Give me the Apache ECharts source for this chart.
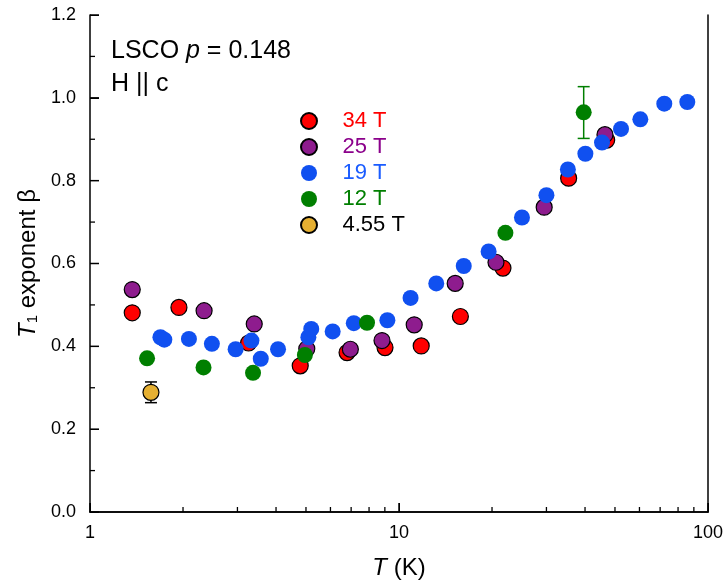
<!DOCTYPE html>
<html>
<head>
<meta charset="utf-8">
<script src="https://cdn.jsdelivr.net/npm/echarts@6/dist/echarts.min.js"></script>
<style>html,body{margin:0;padding:0;background:#fff}#c{width:728px;height:588px}</style>
</head>
<body>
<div id="c"></div>
<script>
// ---- data: [T (K), beta] ----
const field34T = [[1.37,0.481],[1.94,0.494],[3.26,0.408],[4.79,0.353],[6.79,0.385],[9.01,0.397],[11.8,0.401],[15.8,0.472],[21.7,0.589],[35.4,0.806],[47.0,0.898]];
const field25T = [[1.37,0.537],[2.34,0.486],[3.40,0.454],[5.03,0.394],[6.96,0.393],[8.81,0.414],[11.2,0.452],[15.2,0.552],[20.6,0.603],[29.5,0.736],[46.4,0.911]];
const field19T = [[1.69,0.422],[1.74,0.416],[2.09,0.418],[2.48,0.406],[2.96,0.393],[3.33,0.414],[3.57,0.370],[4.06,0.393],[5.09,0.422],[5.20,0.442],[6.10,0.436],[7.14,0.456],[9.17,0.463],[10.9,0.517],[13.2,0.552],[16.2,0.594],[19.5,0.629],[25.0,0.711],[30.0,0.765],[35.2,0.827],[40.1,0.865],[45.4,0.892],[52.3,0.925],[60.4,0.948],[72.2,0.986],[85.7,0.990]];
const field12T = [[1.53,0.371],[2.33,0.349],[3.37,0.336],[4.96,0.379],[7.88,0.457],[22.1,0.674],[39.6,0.965]];
const field455T = [[1.575,0.289]];
// error bars: [T, beta, low, high]
const err12T = [[39.6,0.965,0.902,1.027]];
const err455T = [[1.575,0.289,0.264,0.314]];
// axis ticks
const xMajorTicks = [1,10,100];
const xMinorTicks = [2,3,4,5,6,7,8,9,20,30,40,50,60,70,80,90];
const yMajorTicks = [0,0.2,0.4,0.6,0.8,1.0,1.2];
const yMinorTicks = [0.1,0.3,0.5,0.7,0.9,1.1];
const seriesNames = ['34 T','25 T','19 T','12 T','4.55 T'];

const FONT = '"Liberation Sans", Arial, Helvetica, sans-serif';
const chart = echarts.init(document.getElementById('c'), null, {renderer:'canvas'});

function errRender(color){
  return function(params, api){
    const x = api.value(0), lo = api.value(2), hi = api.value(3);
    const pHi = api.coord([x, hi]), pLo = api.coord([x, lo]);
    const hw = 6;
    const st = {stroke: color, lineWidth: 1.5};
    return {type:'group', children:[
      {type:'line', shape:{x1:pHi[0], y1:pHi[1], x2:pLo[0], y2:pLo[1]}, style:st},
      {type:'line', shape:{x1:pHi[0]-hw, y1:pHi[1], x2:pHi[0]+hw, y2:pHi[1]}, style:st},
      {type:'line', shape:{x1:pLo[0]-hw, y1:pLo[1], x2:pLo[0]+hw, y2:pLo[1]}, style:st}
    ]};
  };
}
// inside tick marks drawn as thin rectangles anchored on the axes
function tickSeries(name, data, size, offset){
  return {
    name, type:'scatter', data, symbol:'rect', symbolSize:size, symbolOffset:offset,
    itemStyle:{color:'#000', opacity:1}, z:5, clip:false, silent:true,
    emphasis:{disabled:true}, legendHoverLink:false
  };
}

const colors = {
  r:'#FF0000', p:'#8E1C8E', b:'#1050F0', g:'#007F00', y:'#E6B032'
};

function scatter(name, data, color, border){
  return {
    name, type:'scatter', data, xAxisIndex:0, yAxisIndex:0,
    symbol:'circle', symbolSize:16, z:3,
    itemStyle:{color, opacity:1, borderColor: border ? '#000' : color, borderWidth: border ? 1.2 : 0},
    emphasis:{disabled:true}
  };
}

const AXC = '#000';

chart.setOption({
  animation:false,
  textStyle:{fontFamily:FONT},
  grid:{left:90, right:20, top:15, bottom:76},
  title:{
    left:106, top:30,
    text:'{n|LSCO }{i|p}{n| = 0.148}\n{n|H || c}',
    textStyle:{fontWeight:'normal', rich:{
      n:{fontSize:25, fontFamily:FONT, fontWeight:'normal', color:'#000', lineHeight:33},
      i:{fontSize:25, fontFamily:FONT, fontWeight:'normal', fontStyle:'italic', color:'#000', lineHeight:33}
    }}
  },
  legend:{
    orient:'vertical', left:295, top:105,
    itemWidth:57, itemHeight:16, itemGap:4,
    textStyle:{fontSize:22, fontFamily:FONT},
    selectedMode:false,
    data:[
      {name:'34 T', textStyle:{color:'#FF0000'}},
      {name:'25 T', textStyle:{color:'#8B008B'}},
      {name:'19 T', textStyle:{color:'#1A5CFF'}},
      {name:'12 T', textStyle:{color:'#007F00'}},
      {name:'4.55 T', textStyle:{color:'#000'}}
    ]
  },
  xAxis:[{
    type:'log', logBase:10, min:1, max:100, position:'bottom',
    axisLine:{show:true, lineStyle:{color:AXC, width:1.5}},
    axisTick:{show:true, inside:true, length:9},
    axisLabel:{show:true, fontSize:18, color:'#000', margin:12, fontFamily:FONT, formatter:v=>String(Math.round(v))},
    splitLine:{show:false},
    name:'{i|T} (K)', nameLocation:'middle', nameGap:44,
    nameTextStyle:{fontSize:24, color:'#000', fontFamily:FONT, rich:{i:{fontSize:24, fontStyle:'italic', fontFamily:FONT, color:'#000'}}}
  },{
    // top frame line
    type:'log', logBase:10, min:1, max:100, position:'top',
    axisLine:{show:true, lineStyle:{color:AXC, width:1.5}},
    axisTick:{show:false}, axisLabel:{show:false}, splitLine:{show:false}
  }],
  yAxis:[{
    type:'value', min:0, max:1.2, interval:0.2, position:'left',
    axisLine:{show:true, lineStyle:{color:AXC, width:1.5}},
    axisTick:{show:true, inside:true, length:9},
    minorTick:{show:false},
    axisLabel:{fontSize:18, color:'#000', margin:14, fontFamily:FONT, formatter:v=>v.toFixed(1)},
    splitLine:{show:false},
    name:'{i|T}{s|1}{n| exponent β}', nameLocation:'middle', nameGap:50, nameRotate:90,
    nameTextStyle:{rich:{
      i:{fontSize:24, fontStyle:'italic', fontFamily:FONT, color:'#000'},
      s:{fontSize:15, fontFamily:FONT, color:'#000', verticalAlign:'bottom', padding:[9,0,0,0]},
      n:{fontSize:24, fontFamily:FONT, color:'#000'}
    }}
  },{
    // right frame line
    type:'value', min:0, max:1.2, position:'right',
    axisLine:{show:true, lineStyle:{color:AXC, width:1.5}},
    axisTick:{show:false}, axisLabel:{show:false}, splitLine:{show:false}
  }],
  series:[
    {name:'err12', type:'custom', data:err12T, renderItem:errRender(colors.g), z:2, silent:true, encode:{x:0,y:1}},
    {name:'err455', type:'custom', data:err455T, renderItem:errRender('#000'), z:2, silent:true, encode:{x:0,y:1}},
    scatter('34 T', field34T, colors.r, true),
    scatter('25 T', field25T, colors.p, true),
    scatter('19 T', field19T, colors.b, false),
    scatter('12 T', field12T, colors.g, false),
    scatter('4.55 T', field455T, colors.y, true),
    tickSeries('xMajorTick', xMajorTicks.map(v=>[v,0]), [1.5,9], [0,-4.5]),
    tickSeries('xMinorTick', xMinorTicks.map(v=>[v,0]), [1.3,5], [0,-2.5]),
    tickSeries('yMajorTick', yMajorTicks.map(v=>[1,v]), [9,1.5], [4.5,0]),
    tickSeries('yMinorTick', yMinorTicks.map(v=>[1,v]), [5,1.3], [2.5,0])
  ]
});
</script>
</body>
</html>
